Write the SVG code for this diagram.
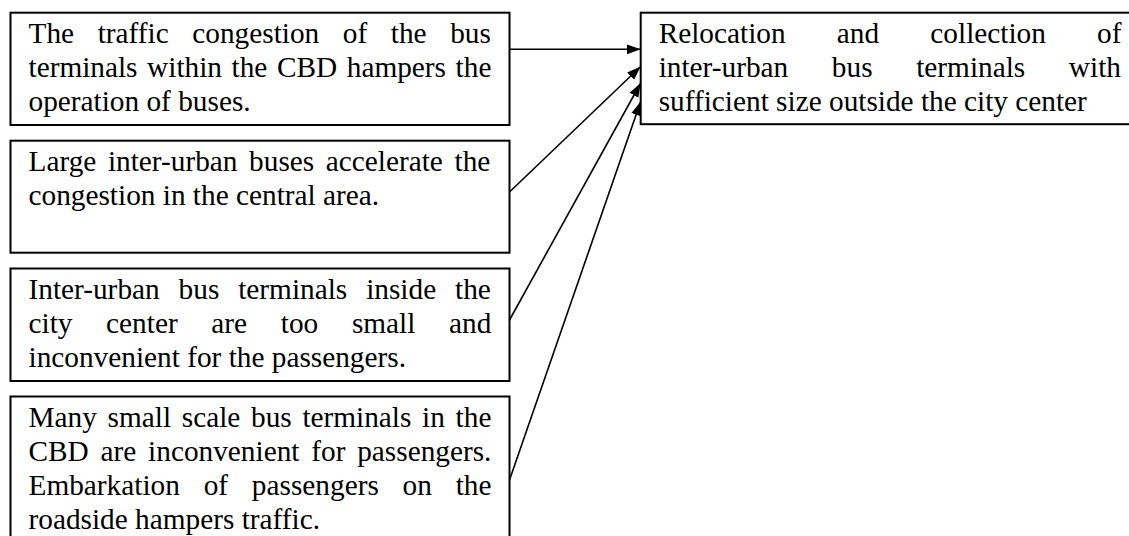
<svg xmlns="http://www.w3.org/2000/svg" width="1129" height="536" viewBox="0 0 1129 536">
  <defs>
    <marker id="arrow" markerUnits="userSpaceOnUse" markerWidth="14" markerHeight="12" viewBox="0 0 14 12" refX="14" refY="6" orient="auto">
      <path d="M0,1 L14,6 L0,11 Z" fill="#000"/>
    </marker>
    <style>
      .box { fill: #fff; stroke: #000; stroke-width: 2; }
      .txt { font-family: "Liberation Serif", "Times New Roman", serif; font-size: 29.3px; fill: #000; }
      .edge { fill: none; stroke: #000; stroke-width: 1.6; marker-end: url(#arrow); }
    </style>
  </defs>
  <rect width="1129" height="536" fill="#fff"/>

  <!-- cause 1 -->
  <g id="cause-congestion">
    <rect class="box" x="10.5" y="12.7" width="499" height="112.3"/>
    <text class="txt" x="28.5" y="43.4">
      <tspan x="28.5" y="43.4" word-spacing="16.28">The traffic congestion of the bus</tspan>
      <tspan x="28.5" y="77.4" word-spacing="2.26">terminals within the CBD hampers the</tspan>
      <tspan x="28.5" y="111.4">operation of buses.</tspan>
    </text>
  </g>

  <!-- cause 2 -->
  <g id="cause-large-buses">
    <rect class="box" x="10.5" y="140.7" width="499" height="112"/>
    <text class="txt">
      <tspan x="28.5" y="171.4" word-spacing="4.3">Large inter-urban buses accelerate the</tspan>
      <tspan x="28.5" y="205.4">congestion in the central area.</tspan>
    </text>
  </g>

  <!-- cause 3 -->
  <g id="cause-small-terminals">
    <rect class="box" x="10.5" y="268.5" width="499" height="112.5"/>
    <text class="txt">
      <tspan x="28.5" y="299.2" word-spacing="11.6">Inter-urban bus terminals inside the</tspan>
      <tspan x="28.5" y="333.2" word-spacing="26.36">city center are too small and</tspan>
      <tspan x="28.5" y="367.2">inconvenient for the passengers.</tspan>
    </text>
  </g>

  <!-- cause 4 -->
  <g id="cause-roadside">
    <rect class="box" x="10.5" y="396.5" width="499" height="150"/>
    <text class="txt">
      <tspan x="28.5" y="427.2" word-spacing="3.38">Many small scale bus terminals in the</tspan>
      <tspan x="28.5" y="461.2" word-spacing="4.48">CBD are inconvenient for passengers.</tspan>
      <tspan x="28.5" y="495.2" word-spacing="16.5">Embarkation of passengers on the</tspan>
      <tspan x="28.5" y="529.2">roadside hampers traffic.</tspan>
    </text>
  </g>

  <!-- measure -->
  <g id="measure-relocation">
    <rect class="box" x="640.7" y="12.7" width="499" height="111.5"/>
    <text class="txt">
      <tspan x="658.7" y="43.4" word-spacing="43.9">Relocation and collection of</tspan>
      <tspan x="658.7" y="77.4" word-spacing="36.3">inter-urban bus terminals with</tspan>
      <tspan x="658.7" y="111.4">sufficient size outside the city center</tspan>
    </text>
  </g>

  <!-- connectors -->
  <g id="connectors">
    <line class="edge" x1="509.5" y1="49.3" x2="640.7" y2="49.3"/>
    <line class="edge" x1="509.5" y1="192" x2="640.7" y2="66.5"/>
    <line class="edge" x1="509.5" y1="320" x2="640.7" y2="83"/>
    <line class="edge" x1="509.5" y1="480" x2="640.7" y2="101.5"/>
  </g>
</svg>
